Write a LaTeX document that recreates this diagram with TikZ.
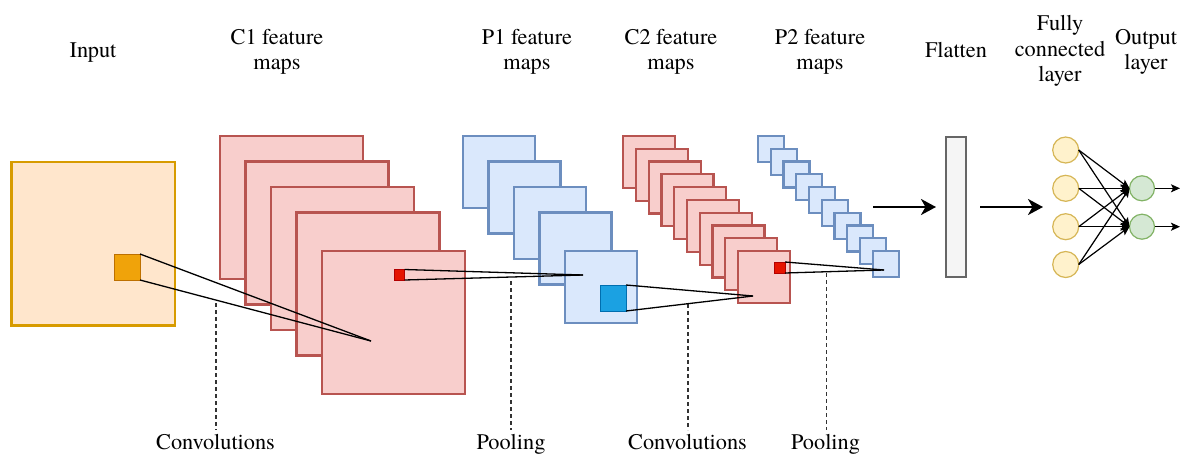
\documentclass[tikz,border=0pt]{standalone}
\usepackage{fontspec}
\setmainfont{Liberation Serif}
\newfontfamily\labelfont{texgyretermes-regular.otf}
\usetikzlibrary{arrows.meta}
\definecolor{inFill}{HTML}{FFE6CC}\definecolor{inLine}{HTML}{D79B00}
\definecolor{orFill}{HTML}{F0A30A}\definecolor{orLine}{HTML}{BD7000}
\definecolor{cFill}{HTML}{F8CECC}\definecolor{cLine}{HTML}{B85450}
\definecolor{pFill}{HTML}{DAE8FC}\definecolor{pLine}{HTML}{6C8EBF}
\definecolor{rdFill}{HTML}{E51400}\definecolor{rdLine}{HTML}{B20000}
\definecolor{blFill}{HTML}{1BA1E2}\definecolor{blLine}{HTML}{006EAF}
\definecolor{flFill}{HTML}{F5F5F5}\definecolor{flLine}{HTML}{666666}
\definecolor{yeFill}{HTML}{FFF2CC}\definecolor{yeLine}{HTML}{D6B656}
\definecolor{grFill}{HTML}{D5E8D4}\definecolor{grLine}{HTML}{82B366}
\definecolor{dashGrey}{HTML}{333333}
\begin{document}
\begin{tikzpicture}[x=1pt,y=-1pt,
  every node/.style={inner sep=0pt,outer sep=0pt},
  sq/.style={anchor=north west,minimum size=#1},
  inbox/.style={sq=#1,draw=inLine,fill=inFill,line width=2.2pt},
  cmap/.style={sq=#1,draw=cLine,fill=cFill,line width=2.2pt},
  pmap/.style={sq=#1,draw=pLine,fill=pFill,line width=2.2pt},
  orsq/.style={sq=#1,draw=orLine,fill=orFill,line width=1pt},
  rdsq/.style={sq=#1,draw=rdLine,fill=rdFill,line width=1pt},
  blsq/.style={sq=#1,draw=blLine,fill=blFill,line width=1pt},
  cone/.style={draw=black,line width=1.3pt},
  guide/.style={draw=dashGrey,line width=1.3pt,dash pattern=on 4pt off 3pt},
  lbl/.style={font=\labelfont\fontsize{22.3}{25.5}\selectfont,align=center},
  bigarrow/.style={draw=black,line width=2.6pt,-{Stealth[length=15pt,width=16pt,inset=4.5pt]}},
  nnarrow/.style={draw=black,line width=1.2pt,-{Stealth[length=9pt,width=8pt,inset=2pt]}},
  neuronA/.style={circle,minimum size=26pt,draw=yeLine,fill=yeFill,line width=1.2pt},
  neuronB/.style={circle,minimum size=25pt,draw=grLine,fill=grFill,line width=1.2pt}
]
\useasboundingbox (0,0) rectangle (1184,453);

% titles
\node[lbl,anchor=base] (tIn) at (93,57) {Input};
\node[lbl] (tC1) at (277,52) {C1 feature\\maps};
\node[lbl] (tP1) at (527,52) {P1 feature\\maps};
\node[lbl] (tC2) at (671,52) {C2 feature\\maps};
\node[lbl] (tP2) at (820,52) {P2 feature\\maps};
\node[lbl,anchor=base] (tFl) at (956,57) {Flatten};
\node[lbl] (tFc) at (1060,51) {Fully\\connected\\layer};
\node[lbl] (tOut) at (1146,52) {Output\\layer};

% bottom labels
\node[lbl,anchor=base] (bConv1) at (215.5,449) {Convolutions};
\node[lbl,anchor=base] (bPool1) at (511,449) {Pooling};
\node[lbl,anchor=base] (bConv2) at (687.5,449) {Convolutions};
\node[lbl,anchor=base] (bPool2) at (825.5,449) {Pooling};

% dashed guides
\coordinate (g1t) at (216,303);   \coordinate (g1b) at (216,430);
\coordinate (g2t) at (511,281);   \coordinate (g2b) at (511,430);
\coordinate (g3t) at (688,304);   \coordinate (g3b) at (688,430);
\coordinate (g4t) at (826.5,273); \coordinate (g4b) at (826.5,430);
\draw[guide] (g1t) -- (g1b);
\draw[guide] (g2t) -- (g2b);
\draw[guide] (g3t) -- (g3b);
\draw[guide] (g4t) -- (g4b);

% input
\node[inbox=163.5] (in) at (11.5,162) {};
\node[orsq=26] (orng) at (114,254) {};

% C1 feature maps
\node[cmap=143] (c1a) at (220,136) {};
\node[cmap=143] (c1b) at (245.5,161.5) {};
\node[cmap=143] (c1c) at (271,187) {};
\node[cmap=143] (c1d) at (296.5,212.5) {};
\node[cmap=143] (c1e) at (322,251) {};
\node[rdsq=10.5] (red1) at (394,269.5) {};

% P1 feature maps
\node[pmap=72] (p1a) at (463,136) {};
\node[pmap=72] (p1b) at (488.5,161.5) {};
\node[pmap=72] (p1c) at (514,187) {};
\node[pmap=72] (p1d) at (539.5,212.5) {};
\node[pmap=72] (p1e) at (565,251) {};
\node[blsq=26] (blue) at (600,285) {};

% C2 feature maps
\foreach \i in {0,...,9}
  \node[cmap=52] (c2-\i) at (623.3+12.74*\i,136+12.78*\i) {};
\node[rdsq=11] (red2) at (774,262) {};

% P2 feature maps
\foreach \i in {0,...,9}
  \node[pmap=26] (p2-\i) at (758+12.74*\i,136+12.78*\i) {};

% cones
\coordinate (k1) at (371,341);
\coordinate (k2) at (583,275);
\coordinate (k3) at (753,296);
\coordinate (k4) at (884,270);
\draw[cone] (orng.north east) -- (k1);
\draw[cone] (orng.south east) -- (k1);
\draw[cone] (red1.north east) -- (k2);
\draw[cone] (red1.south east) -- (k2);
\draw[cone] (blue.north east) -- (k3);
\draw[cone] (blue.south east) -- (k3);
\draw[cone] (red2.north east) -- (k4);
\draw[cone] (red2.south east) -- (k4);

% flatten
\node[anchor=north west,minimum width=20pt,minimum height=140pt,draw=flLine,fill=flFill,line width=1.2pt] (flat) at (946,137) {};
\coordinate (a1) at (873,207);
\coordinate (a2) at (1043,207);
\draw[bigarrow,shorten >=10pt] (a1) -- (flat.west);
\draw[bigarrow,shorten <=14pt] (flat.east) -- (a2);

% fully connected
\node[neuronA] (h1) at (1065.7,150) {};
\node[neuronA] (h2) at (1065.7,188.3) {};
\node[neuronA] (h3) at (1065.7,226.7) {};
\node[neuronA] (h4) at (1065.7,264.5) {};
\node[neuronB] (o1) at (1142,188.3) {};
\node[neuronB] (o2) at (1142,226.7) {};
\foreach \h in {h1,h2,h3,h4}
  \foreach \o in {o1,o2}
    \draw[nnarrow] (\h.east) -- (\o.west);
\coordinate (e1) at (1180,188.3);
\coordinate (e2) at (1180,226.7);
\draw[nnarrow] (o1.east) -- (e1);
\draw[nnarrow] (o2.east) -- (e2);
\end{tikzpicture}
\end{document}
